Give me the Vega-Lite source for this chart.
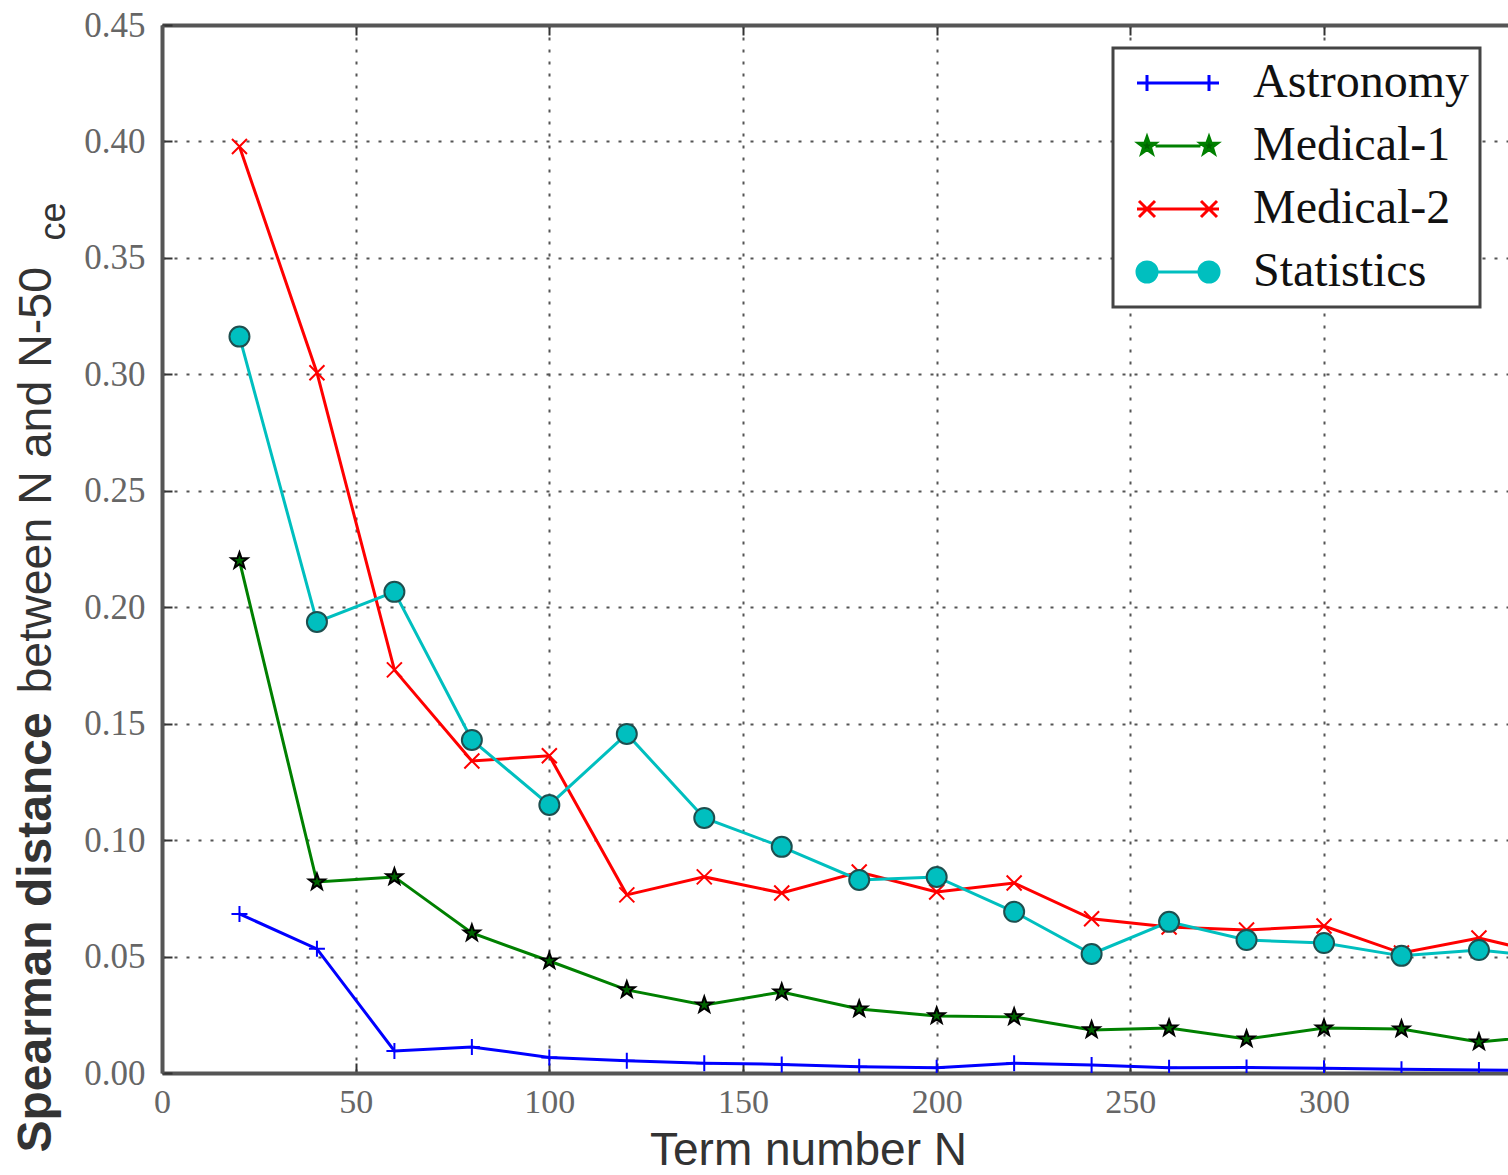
{
  "$schema": "https://vega.github.io/schema/vega-lite/v6.json",
  "width": 1346,
  "height": 1048,
  "autosize": "none",
  "padding": {"left": 162, "top": 25, "right": 0, "bottom": 102},
  "background": "white",
  "config": {
    "view": {"stroke": null},
    "axis": {"labelFlush": false, "labelOverlap": false},
    "legend": {"strokeWidth": 3}
  },
  "data": {
    "values": [
      {"series": "Astronomy", "n": 20, "d": 0.0683},
      {"series": "Astronomy", "n": 40, "d": 0.0533},
      {"series": "Astronomy", "n": 60, "d": 0.0095},
      {"series": "Astronomy", "n": 80, "d": 0.0112},
      {"series": "Astronomy", "n": 100, "d": 0.0067},
      {"series": "Astronomy", "n": 120, "d": 0.0053},
      {"series": "Astronomy", "n": 140, "d": 0.0042},
      {"series": "Astronomy", "n": 160, "d": 0.0037},
      {"series": "Astronomy", "n": 180, "d": 0.0027},
      {"series": "Astronomy", "n": 200, "d": 0.0023},
      {"series": "Astronomy", "n": 220, "d": 0.0042},
      {"series": "Astronomy", "n": 240, "d": 0.0034},
      {"series": "Astronomy", "n": 260, "d": 0.0023},
      {"series": "Astronomy", "n": 280, "d": 0.0024},
      {"series": "Astronomy", "n": 300, "d": 0.0020},
      {"series": "Astronomy", "n": 320, "d": 0.0016},
      {"series": "Astronomy", "n": 340, "d": 0.0013},
      {"series": "Astronomy", "n": 360, "d": 0.0011},
      {"series": "Medical-1", "n": 20, "d": 0.2199},
      {"series": "Medical-1", "n": 40, "d": 0.0820},
      {"series": "Medical-1", "n": 60, "d": 0.0842},
      {"series": "Medical-1", "n": 80, "d": 0.0601},
      {"series": "Medical-1", "n": 100, "d": 0.0481},
      {"series": "Medical-1", "n": 120, "d": 0.0357},
      {"series": "Medical-1", "n": 140, "d": 0.0292},
      {"series": "Medical-1", "n": 160, "d": 0.0348},
      {"series": "Medical-1", "n": 180, "d": 0.0275},
      {"series": "Medical-1", "n": 200, "d": 0.0245},
      {"series": "Medical-1", "n": 220, "d": 0.0241},
      {"series": "Medical-1", "n": 240, "d": 0.0185},
      {"series": "Medical-1", "n": 260, "d": 0.0193},
      {"series": "Medical-1", "n": 280, "d": 0.0146},
      {"series": "Medical-1", "n": 300, "d": 0.0193},
      {"series": "Medical-1", "n": 320, "d": 0.0189},
      {"series": "Medical-1", "n": 340, "d": 0.0133},
      {"series": "Medical-1", "n": 360, "d": 0.0165},
      {"series": "Medical-2", "n": 20, "d": 0.3978},
      {"series": "Medical-2", "n": 40, "d": 0.3007},
      {"series": "Medical-2", "n": 60, "d": 0.1731},
      {"series": "Medical-2", "n": 80, "d": 0.1340},
      {"series": "Medical-2", "n": 100, "d": 0.1362},
      {"series": "Medical-2", "n": 120, "d": 0.0765},
      {"series": "Medical-2", "n": 140, "d": 0.0842},
      {"series": "Medical-2", "n": 160, "d": 0.0773},
      {"series": "Medical-2", "n": 180, "d": 0.0863},
      {"series": "Medical-2", "n": 200, "d": 0.0777},
      {"series": "Medical-2", "n": 220, "d": 0.0816},
      {"series": "Medical-2", "n": 240, "d": 0.0662},
      {"series": "Medical-2", "n": 260, "d": 0.0627},
      {"series": "Medical-2", "n": 280, "d": 0.0614},
      {"series": "Medical-2", "n": 300, "d": 0.0631},
      {"series": "Medical-2", "n": 320, "d": 0.0515},
      {"series": "Medical-2", "n": 340, "d": 0.0580},
      {"series": "Medical-2", "n": 360, "d": 0.0500},
      {"series": "Statistics", "n": 20, "d": 0.3162},
      {"series": "Statistics", "n": 40, "d": 0.1937},
      {"series": "Statistics", "n": 60, "d": 0.2066},
      {"series": "Statistics", "n": 80, "d": 0.1430},
      {"series": "Statistics", "n": 100, "d": 0.1151},
      {"series": "Statistics", "n": 120, "d": 0.1456},
      {"series": "Statistics", "n": 140, "d": 0.1095},
      {"series": "Statistics", "n": 160, "d": 0.0971},
      {"series": "Statistics", "n": 180, "d": 0.0829},
      {"series": "Statistics", "n": 200, "d": 0.0842},
      {"series": "Statistics", "n": 220, "d": 0.0692},
      {"series": "Statistics", "n": 240, "d": 0.0511},
      {"series": "Statistics", "n": 260, "d": 0.0649},
      {"series": "Statistics", "n": 280, "d": 0.0571},
      {"series": "Statistics", "n": 300, "d": 0.0558},
      {"series": "Statistics", "n": 320, "d": 0.0503},
      {"series": "Statistics", "n": 340, "d": 0.0528},
      {"series": "Statistics", "n": 360, "d": 0.0495}
    ]
  },
  "layer": [
    {
      "mark": {"type": "line", "strokeWidth": 3, "clip": true},
      "encoding": {
        "x": {
          "field": "n", "type": "quantitative",
          "scale": {"domain": [0, 347.5], "nice": false, "zero": false},
          "axis": {
            "orient": "bottom",
            "values": [0, 50, 100, 150, 200, 250, 300],
            "labelFont": "Liberation Serif", "labelFontSize": 34, "labelColor": "#666",
            "labelPadding": 22, "labelBaseline": "top",
            "ticks": true, "tickSize": -10, "tickColor": "#333", "tickWidth": 2,
            "domain": true, "domainColor": "#555", "domainWidth": 4,
            "grid": true, "gridColor": "#555", "gridDash": [3, 9], "gridWidth": 2,
            "title": "Term number N",
            "titleFont": "Liberation Sans", "titleFontSize": 46, "titleFontWeight": "normal", "titleColor": "#333",
            "titleX": 646, "titleY": 91, "titleAlign": "center", "titleBaseline": "alphabetic"
          }
        },
        "y": {
          "field": "d", "type": "quantitative",
          "scale": {"domain": [0, 0.45], "nice": false, "zero": false},
          "axis": {
            "orient": "left",
            "values": [0, 0.05, 0.1, 0.15, 0.2, 0.25, 0.3, 0.35, 0.4, 0.45],
            "format": ".2f",
            "labelFont": "Liberation Serif", "labelFontSize": 35, "labelColor": "#666",
            "labelPadding": 27,
            "ticks": true, "tickSize": -10, "tickColor": "#333", "tickWidth": 2,
            "domain": true, "domainColor": "#555", "domainWidth": 4,
            "grid": true, "gridColor": "#555", "gridDash": [3, 9], "gridWidth": 2,
            "title": "Spearman distance",
            "titleFont": "Liberation Sans", "titleFontSize": 48, "titleFontWeight": "bold", "titleColor": "#333",
            "titleAngle": 270, "titleX": -112, "titleY": 1127, "titleAlign": "left", "titleBaseline": "alphabetic"
          }
        },
        "color": {
          "field": "series", "type": "nominal",
          "scale": {"domain": ["Astronomy", "Medical-1", "Medical-2", "Statistics"], "range": ["#0000ff", "#008000", "#ff0000", "#00bfbf"]},
          "legend": null
        }
      }
    },
    {
      "mark": {"type": "point", "size": 400, "strokeWidth": 2, "opacity": 1, "clip": true},
      "encoding": {
        "x": {
          "field": "n", "type": "quantitative",
          "scale": {"domain": [0, 347.5], "nice": false, "zero": false},
          "axis": {
            "orient": "top", "values": [0, 50, 100, 150, 200, 250, 300],
            "labels": false, "grid": false, "title": null,
            "ticks": true, "tickSize": -10, "tickColor": "#333", "tickWidth": 2,
            "domain": true, "domainColor": "#555", "domainWidth": 4
          }
        },
        "y": {
          "field": "d", "type": "quantitative",
          "scale": {"domain": [0, 0.45], "nice": false, "zero": false},
          "axis": {
            "orient": "left", "labels": false, "ticks": false, "domain": false, "grid": false,
            "title": "between N and N-50",
            "titleFont": "Liberation Sans", "titleFontSize": 46.5, "titleFontWeight": "normal", "titleColor": "#333",
            "titleAngle": 270, "titleX": -112, "titleY": 668, "titleAlign": "left", "titleBaseline": "alphabetic"
          }
        },
        "shape": {
          "field": "series", "type": "nominal",
          "scale": {
            "domain": ["Astronomy", "Medical-1", "Medical-2", "Statistics"],
            "range": [
              "M-0.8,0L0.8,0M0,-0.8L0,0.8",
              "M0,-0.85L0.2,-0.275L0.808,-0.263L0.323,0.105L0.5,0.688L0,0.34L-0.5,0.688L-0.323,0.105L-0.808,-0.263L-0.2,-0.275Z",
              "M-0.75,-0.75L0.75,0.75M-0.75,0.75L0.75,-0.75",
              "M-1,0A1,1 0 1,1 1,0A1,1 0 1,1 -1,0Z"
            ]
          },
          "legend": null
        },
        "fill": {
          "field": "series", "type": "nominal",
          "scale": {"domain": ["Astronomy", "Medical-1", "Medical-2", "Statistics"], "range": ["#0000ff", "#006400", "#ff0000", "#00bfbf"]},
          "legend": null
        },
        "stroke": {
          "field": "series", "type": "nominal",
          "scale": {"domain": ["Astronomy", "Medical-1", "Medical-2", "Statistics"], "range": ["#0000ff", "#000000", "#ff0000", "#1e4f4f"]},
          "legend": null
        }
      }
    },
    {
      "transform": [{"filter": "datum.n > 1000"}],
      "mark": {"type": "point", "size": 1600, "strokeWidth": 3, "opacity": 1},
      "encoding": {
        "x": {
          "field": "n", "type": "quantitative",
          "scale": {"domain": [0, 347.5], "nice": false, "zero": false},
          "axis": null
        },
        "y": {
          "field": "d", "type": "quantitative",
          "scale": {"domain": [0, 0.45], "nice": false, "zero": false},
          "axis": {
            "orient": "left", "labels": false, "ticks": false, "domain": false, "grid": false,
            "title": "ce",
            "titleFont": "Liberation Sans", "titleFontSize": 36, "titleFontWeight": "normal", "titleColor": "#333",
            "titleAngle": 270, "titleX": -98, "titleY": 215, "titleAlign": "left", "titleBaseline": "alphabetic"
          }
        },
        "shape": {
          "field": "series", "type": "nominal",
          "scale": {
            "domain": ["Astronomy", "Medical-1", "Medical-2", "Statistics"],
            "range": [
              "M-2.05,0L2.05,0M-1.55,-0.4L-1.55,0.4M1.55,-0.4L1.55,0.4",
              "M-1.12,0L1.12,0M-1.55,-0.45L-1.444,-0.146L-1.122,-0.139L-1.379,0.056L-1.285,0.364L-1.55,0.18L-1.815,0.364L-1.721,0.056L-1.978,-0.139L-1.656,-0.146ZM1.55,-0.45L1.656,-0.146L1.978,-0.139L1.721,0.056L1.815,0.364L1.55,0.18L1.285,0.364L1.379,0.056L1.122,-0.139L1.444,-0.146Z",
              "M-2.05,0L2.05,0M-1.95,-0.4L-1.15,0.4M-1.95,0.4L-1.15,-0.4M1.15,-0.4L1.95,0.4M1.15,0.4L1.95,-0.4",
              "M-1.05,0L1.05,0M-2.05,0A0.5,0.5 0 1,1 -1.05,0A0.5,0.5 0 1,1 -2.05,0ZM1.05,0A0.5,0.5 0 1,1 2.05,0A0.5,0.5 0 1,1 1.05,0Z"
            ]
          },
          "legend": {
            "orient": "none", "legendX": 951, "legendY": 23, "title": null,
            "padding": 11, "strokeColor": "#444", "fillColor": "white", "cornerRadius": 0,
            "symbolOffset": 30, "labelOffset": 51, "symbolSize": 1600, "symbolStrokeWidth": 3,
            "labelFont": "Liberation Serif", "labelFontSize": 48, "labelColor": "#111",
            "rowPadding": 15, "labelLimit": 500
          }
        },
        "fill": {
          "field": "series", "type": "nominal",
          "scale": {"domain": ["Astronomy", "Medical-1", "Medical-2", "Statistics"], "range": ["#0000ff", "#006400", "#ff0000", "#00bfbf"]},
          "legend": {
            "orient": "none", "legendX": 951, "legendY": 23, "title": null,
            "padding": 11, "strokeColor": "#444", "fillColor": "white", "cornerRadius": 0,
            "symbolOffset": 30, "labelOffset": 51, "symbolSize": 1600, "symbolStrokeWidth": 3,
            "labelFont": "Liberation Serif", "labelFontSize": 48, "labelColor": "#111",
            "rowPadding": 15, "labelLimit": 500
          }
        },
        "stroke": {
          "field": "series", "type": "nominal",
          "scale": {"domain": ["Astronomy", "Medical-1", "Medical-2", "Statistics"], "range": ["#0000ff", "#008000", "#ff0000", "#00bfbf"]},
          "legend": {
            "orient": "none", "legendX": 951, "legendY": 23, "title": null,
            "padding": 11, "strokeColor": "#444", "fillColor": "white", "cornerRadius": 0,
            "symbolOffset": 30, "labelOffset": 51, "symbolSize": 1600, "symbolStrokeWidth": 3,
            "labelFont": "Liberation Serif", "labelFontSize": 48, "labelColor": "#111",
            "rowPadding": 15, "labelLimit": 500
          }
        }
      }
    }
  ],
  "resolve": {
    "scale": {"shape": "independent", "fill": "independent", "stroke": "independent"},
    "axis": {"x": "independent", "y": "independent"},
    "legend": {"shape": "independent", "fill": "independent", "stroke": "independent"}
  }
}
